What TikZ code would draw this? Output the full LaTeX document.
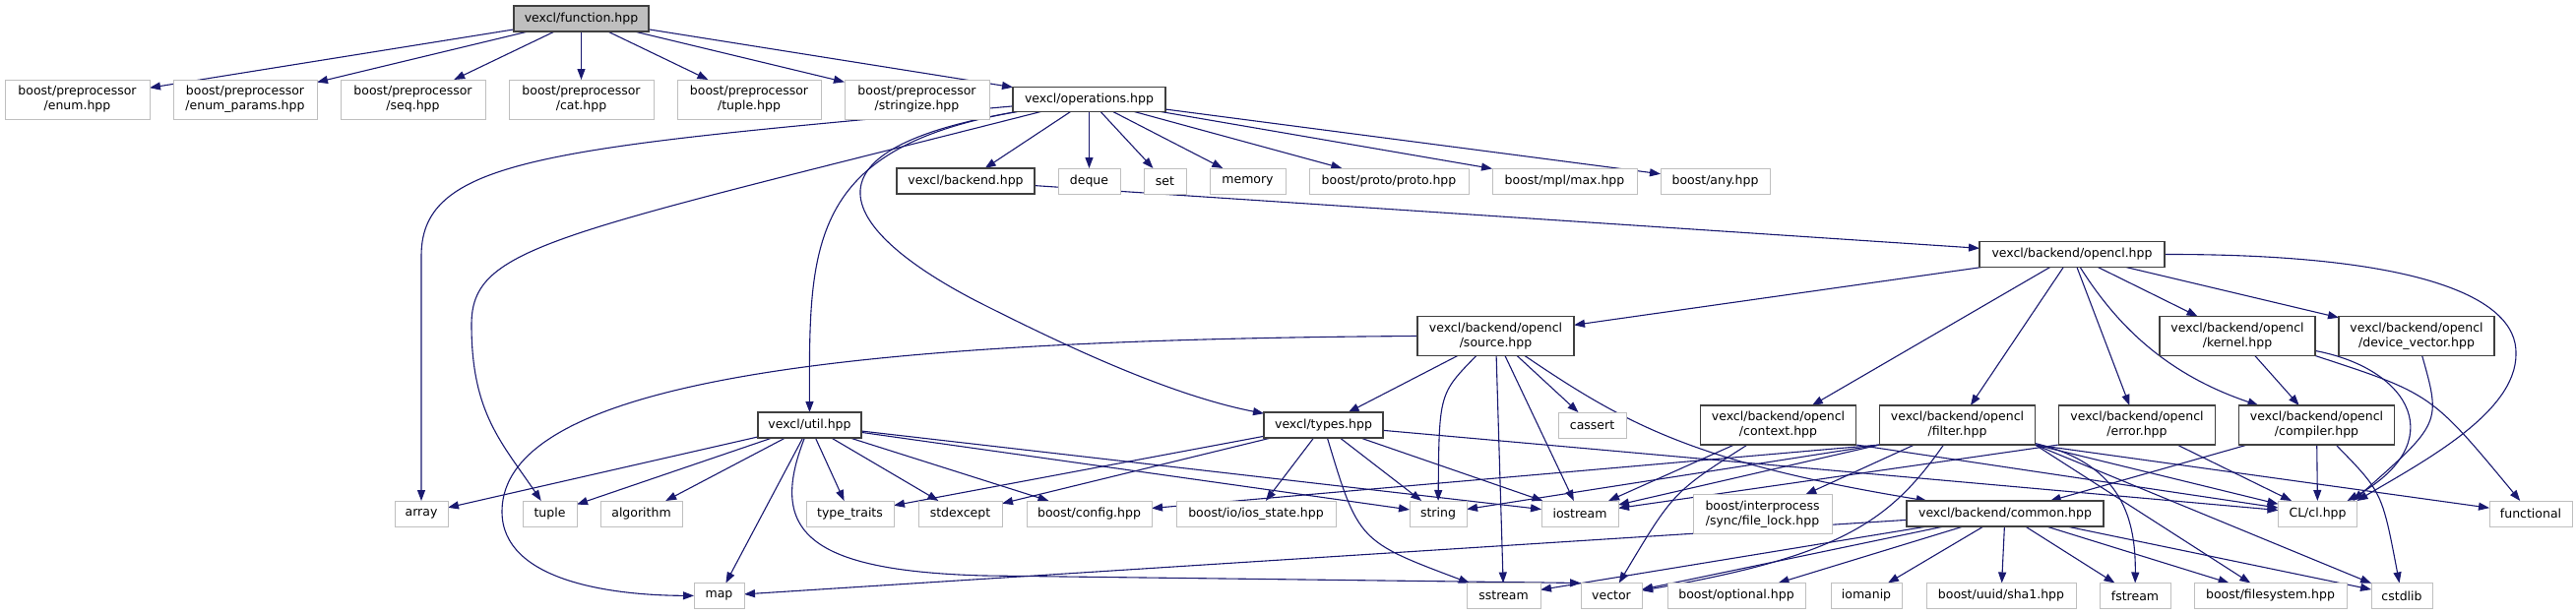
\documentclass[tikz,border=0pt]{standalone}
\usepackage{fontspec}
\setmainfont{DejaVu Sans}
\definecolor{EdgeNavy}{HTML}{191970}
\definecolor{SysGrey}{HTML}{BFBFBF}
\definecolor{HdrLine}{HTML}{404040}
\usetikzlibrary{positioning,arrows.meta,backgrounds}

\begin{document}
\begin{tikzpicture}[x=1pt, y=-1pt, node distance=24pt,
  every node/.style={font=\fontsize{12.5}{15}\selectfont, inner sep=0pt, outer sep=0pt, align=center},
  hdr/.style={draw=HdrLine, line width=1.1pt, fill=white, minimum height=26pt},
  hdrtwo/.style={hdr, minimum height=40pt},
  sys/.style={draw=SysGrey, line width=1pt, fill=white, minimum height=26pt},
  systwo/.style={sys, minimum height=40pt},
  cur/.style={hdr, fill=SysGrey},
  inc/.style={EdgeNavy, line width=1.1pt, -{Triangle[length=11pt,width=8pt]}}]
  \useasboundingbox (0,0) rectangle (2617,624);

  \node[cur, minimum width=137pt] (fn) at (590.5,19) {vexcl/function.hpp};

  \node[systwo, minimum width=147pt] (enum) at (78.5,101) {boost/preprocessor\\/enum.hpp};
  \node[systwo, minimum width=146pt, right=of enum] (params) {boost/preprocessor\\/enum\_params.hpp};
  \node[systwo, minimum width=147pt, right=of params] (seq) {boost/preprocessor\\/seq.hpp};
  \node[systwo, minimum width=147pt, right=of seq] (cat) {boost/preprocessor\\/cat.hpp};
  \node[systwo, minimum width=146pt, right=of cat] (tplhpp) {boost/preprocessor\\/tuple.hpp};
  \node[systwo, minimum width=147pt, right=of tplhpp] (strz) {boost/preprocessor\\/stringize.hpp};
  \node[hdr, minimum width=155pt, minimum height=25pt, right=of strz] (ops) {vexcl/operations.hpp};

  \node[hdr, minimum width=140pt] (backend) at (981,184) {vexcl/backend.hpp};
  \node[sys, minimum width=63pt, right=of backend] (deque) {deque};
  \node[sys, minimum width=43pt, right=of deque] (set) {set};
  \node[sys, minimum width=77pt, right=of set] (memory) {memory};
  \node[sys, minimum width=162pt, right=of memory] (proto) {boost/proto/proto.hpp};
  \node[sys, minimum width=147pt, right=of proto] (mplmax) {boost/mpl/max.hpp};
  \node[sys, minimum width=111pt, right=of mplmax] (any) {boost/any.hpp};

  \node[hdr, minimum width=188pt] (opencl) at (2105,258.5) {vexcl/backend/opencl.hpp};

  \node[hdrtwo, minimum width=159pt] (source) at (1519.5,341.5) {vexcl/backend/opencl\\/source.hpp};
  \node[hdrtwo, minimum width=158pt] (kernel) at (2273,341.5) {vexcl/backend/opencl\\/kernel.hpp};
  \node[hdrtwo, minimum width=158pt, right=of kernel] (devvec) {vexcl/backend/opencl\\/device\_vector.hpp};

  \node[hdr, minimum width=105pt] (util) at (822.5,432) {vexcl/util.hpp};
  \node[hdr, minimum width=121pt] (types) at (1344.5,432) {vexcl/types.hpp};
  \node[sys, minimum width=69pt] (cassert) at (1617.5,432) {cassert};
  \node[hdrtwo, minimum width=158pt] (context) at (1806.5,432) {vexcl/backend/opencl\\/context.hpp};
  \node[hdrtwo, minimum width=158pt, right=of context] (filter) {vexcl/backend/opencl\\/filter.hpp};
  \node[hdrtwo, minimum width=159pt, right=of filter] (error) {vexcl/backend/opencl\\/error.hpp};
  \node[hdrtwo, minimum width=158pt, right=of error] (compiler) {vexcl/backend/opencl\\/compiler.hpp};

  \node[sys, minimum width=54pt] (array) at (428,522) {array};
  \node[sys, minimum width=55pt] (tuple) at (558.5,522) {tuple};
  \node[sys, minimum width=83pt, right=of tuple] (algo) {algorithm};
  \node[sys, minimum width=89pt] (traits) at (863.5,522) {type\_traits};
  \node[sys, minimum width=85pt, right=25pt of traits] (stdexc) {stdexcept};
  \node[sys, minimum width=127pt, right=25pt of stdexc] (config) {boost/config.hpp};
  \node[sys, minimum width=162pt, right=25pt of config] (iostate) {boost/io/ios\_state.hpp};
  \node[sys, minimum width=58pt] (string) at (1461,522) {string};
  \node[sys, minimum width=78pt] (iostream) at (1605,522) {iostream};
  \node[systwo, minimum width=141pt] (flock) at (1790.5,522.5) {boost/interprocess\\/sync/file\_lock.hpp};
  \node[hdr, minimum width=200pt] (common) at (2037,522) {vexcl/backend/common.hpp};
  \node[sys, minimum width=80pt] (cl) at (2354.5,522) {CL/cl.hpp};
  \node[sys, minimum width=84pt] (functional) at (2571,522) {functional};

  \node[sys, minimum width=51pt] (map) at (730.5,605.5) {map};
  \node[sys, minimum width=75pt] (sstream) at (1527.5,605.5) {sstream};
  \node[sys, minimum width=62pt] (vector) at (1637,605.5) {vector};
  \node[sys, minimum width=140pt, right=26pt of vector] (optional) {boost/optional.hpp};
  \node[sys, minimum width=72pt, right=26pt of optional] (iomanip) {iomanip};
  \node[sys, minimum width=152pt, right=25pt of iomanip] (sha1) {boost/uuid/sha1.hpp};
  \node[sys, minimum width=72pt, right=of sha1] (fstream) {fstream};
  \node[sys, minimum width=155pt, right=of fstream] (fsys) {boost/filesystem.hpp};
  \node[sys, minimum width=62pt, right=25pt of fsys] (cstdlib) {cstdlib};

  \begin{scope}[on background layer]
    \draw[inc] (fn) -- (enum);
    \draw[inc] (fn) -- (params);
    \draw[inc] (fn) -- (seq);
    \draw[inc] (fn) -- (cat);
    \draw[inc] (fn) -- (tplhpp);
    \draw[inc] (fn) -- (strz);
    \draw[inc] (fn) -- (ops);

    \draw[inc] (ops) .. controls (560,150) and (428,160) .. (428,260) -- (array);
    \draw[inc] (ops) .. controls (560,240) and (479,250) .. (479,330) .. controls (479,420) and (510,450) .. (tuple);
    \draw[inc] (ops) .. controls (820,150) and (822,250) .. (util);
    \draw[inc] (ops) .. controls (760,160) and (900,260) .. (1000,310) .. controls (1060,340) and (1180,400) .. (types);
    \draw[inc] (ops) -- (backend);
    \draw[inc] (ops) -- (deque);
    \draw[inc] (ops) -- (set);
    \draw[inc] (ops) -- (memory);
    \draw[inc] (ops) -- (proto);
    \draw[inc] (ops) -- (mplmax);
    \draw[inc] (ops) -- (any);

    \draw[inc] (backend) -- (opencl);

    \draw[inc] (opencl) -- (source);
    \draw[inc] (opencl) -- (context);
    \draw[inc] (opencl) -- (filter);
    \draw[inc] (opencl) -- (error);
    \draw[inc] (opencl) .. controls (2150,330) and (2200,380) .. (compiler);
    \draw[inc] (opencl) -- (kernel);
    \draw[inc] (opencl) -- (devvec);
    \draw[inc] (opencl.east) .. controls (2450,258) and (2558,300) .. (2556,360) .. controls (2556,420) and (2460,470) .. (cl.north east);

    \draw[inc] (source) -- (types);
    \draw[inc] (source.west) .. controls (900,345) and (510,380) .. (510,520) .. controls (510,590) and (620,605) .. (map);
    \draw[inc] (source) .. controls (1462,400) .. (string);
    \draw[inc] (source) -- (sstream);
    \draw[inc] (source) -- (iostream);
    \draw[inc] (source) -- (cassert);
    \draw[inc] (source) .. controls (1650,430) and (1720,470) .. (common);

    \draw[inc] (util) -- (array);
    \draw[inc] (util) -- (tuple);
    \draw[inc] (util) -- (algo);
    \draw[inc] (util) -- (map);
    \draw[inc] (util) .. controls (780,540) and (820,580) .. (1000,585) -- (vector.north west);
    \draw[inc] (util) -- (traits);
    \draw[inc] (util) -- (stdexc);
    \draw[inc] (util) -- (config);
    \draw[inc] (util) -- (string);
    \draw[inc] (util) -- (iostream);

    \draw[inc] (types) -- (iostate);
    \draw[inc] (types) .. controls (1380,550) .. (sstream);
    \draw[inc] (types) -- (string);
    \draw[inc] (types) -- (iostream);
    \draw[inc] (types) -- (traits);
    \draw[inc] (types) -- (stdexc);
    \draw[inc] (types) -- (cl);

    \draw[inc] (context) -- (iostream);
    \draw[inc] (context) .. controls (1700,500) .. (vector);
    \draw[inc] (context.south east) -- (cl);

    \draw[inc] (filter) -- (flock);
    \draw[inc] (filter) .. controls (1920,530) and (1870,565) .. (vector);
    \draw[inc] (filter.south west) -- (string);
    \draw[inc] (filter.south west) -- (iostream);
    \draw[inc] (filter.south west) -- (config);
    \draw[inc] (filter) .. controls (2150,470) and (2170,520) .. (fstream);
    \draw[inc] (filter.south east) -- (fsys);
    \draw[inc] (filter.south east) -- (cstdlib);
    \draw[inc] (filter.south east) -- (cl);
    \draw[inc] (filter.south east) -- (functional);

    \draw[inc] (error.south west) -- (iostream);
    \draw[inc] (error) -- (cl);

    \draw[inc] (compiler) -- (common);
    \draw[inc] (compiler) -- (cl);
    \draw[inc] (compiler) .. controls (2420,500) .. (cstdlib);

    \draw[inc] (kernel) -- (compiler);
    \draw[inc] (kernel) .. controls (2450,375) and (2490,450) .. ([xshift=-10pt]cl.north east);
    \draw[inc] (kernel.south east) .. controls (2470,400) .. (functional);

    \draw[inc] (devvec) .. controls (2480,430) .. ([xshift=-4pt]cl.north east);

    \draw[inc] (common) -- (map);
    \draw[inc] (common) -- (sstream);
    \draw[inc] (common) -- (vector);
    \draw[inc] (common) -- (optional);
    \draw[inc] (common) -- (iomanip);
    \draw[inc] (common) -- (sha1);
    \draw[inc] (common) -- (fstream);
    \draw[inc] (common) -- (fsys);
    \draw[inc] (common) -- (cstdlib);
  \end{scope}
\end{tikzpicture}
\end{document}
